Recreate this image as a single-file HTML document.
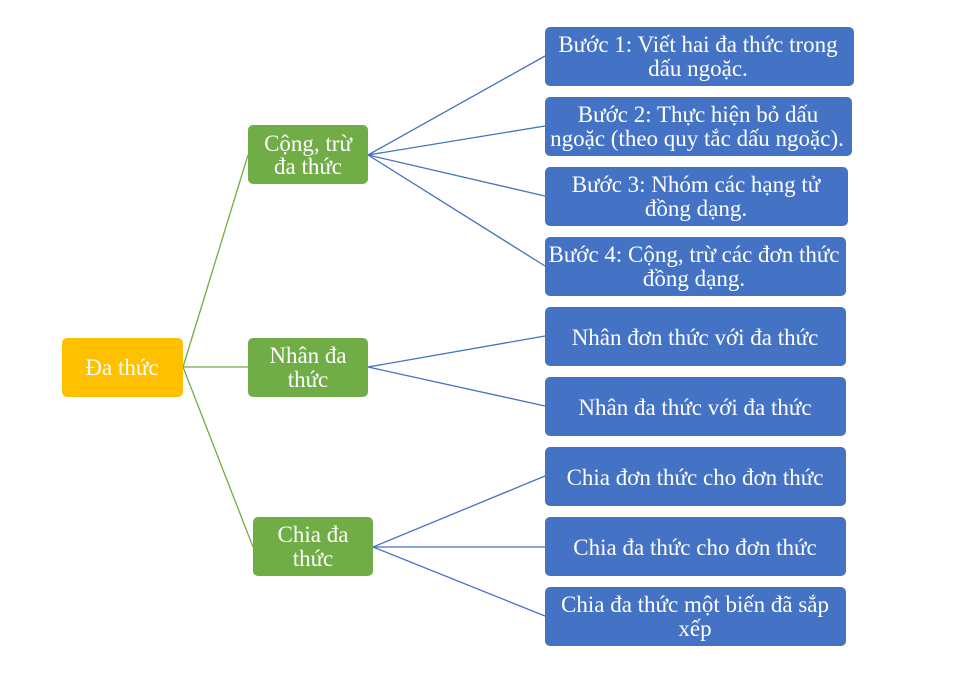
<!DOCTYPE html>
<html><head><meta charset="utf-8"><style>
html,body{margin:0;padding:0;background:#fff;width:957px;height:682px;overflow:hidden}
text{font-family:"Liberation Serif",serif;font-size:23px;fill:#fff;text-anchor:middle}
</style></head><body>
<svg width="957" height="682" viewBox="0 0 957 682" xmlns="http://www.w3.org/2000/svg">
<g stroke="#70AD47" stroke-width="1.3" fill="none">
<line x1="183" y1="367" x2="248" y2="155"/>
<line x1="183" y1="367" x2="248" y2="367"/>
<line x1="183" y1="367" x2="253" y2="547"/>
</g>
<g stroke="#4472C4" stroke-width="1.3" fill="none">
<line x1="368" y1="155" x2="545" y2="56"/>
<line x1="368" y1="155" x2="545" y2="126"/>
<line x1="368" y1="155" x2="545" y2="196"/>
<line x1="368" y1="155" x2="545" y2="266"/>
<line x1="368" y1="367" x2="545" y2="336"/>
<line x1="368" y1="367" x2="545" y2="406"/>
<line x1="373" y1="547" x2="545" y2="476"/>
<line x1="373" y1="547" x2="545" y2="547"/>
<line x1="373" y1="547" x2="545" y2="616"/>
</g>
<rect x="62" y="338" width="121" height="59" rx="5" fill="#FFC000"/>
<g fill="#70AD47">
<rect x="248" y="125" width="120" height="59" rx="5"/>
<rect x="248" y="338" width="120" height="59" rx="5"/>
<rect x="253" y="517" width="120" height="59" rx="5"/>
</g>
<g fill="#4472C4">
<rect x="545" y="27" width="309" height="59" rx="5"/>
<rect x="545" y="97" width="307" height="59" rx="5"/>
<rect x="545" y="167" width="303" height="59" rx="5"/>
<rect x="545" y="237" width="301" height="59" rx="5"/>
<rect x="545" y="307" width="301" height="59" rx="5"/>
<rect x="545" y="377" width="301" height="59" rx="5"/>
<rect x="545" y="447" width="301" height="59" rx="5"/>
<rect x="545" y="517" width="301" height="59" rx="5"/>
<rect x="545" y="587" width="301" height="59" rx="5"/>
</g>
<text x="122" y="375">Đa thức</text>
<text x="308" y="151">Cộng, trừ</text>
<text x="308" y="174">đa thức</text>
<text x="308" y="363">Nhân đa</text>
<text x="308" y="387">thức</text>
<text x="313" y="542">Chia đa</text>
<text x="313" y="566">thức</text>
<text x="698" y="52">Bước 1: Viết hai đa thức trong</text>
<text x="698" y="76">dấu ngoặc.</text>
<text x="698" y="122">Bước 2: Thực hiện bỏ dấu</text>
<text x="697" y="146">ngoặc (theo quy tắc dấu ngoặc).</text>
<text x="696" y="192">Bước 3: Nhóm các hạng tử</text>
<text x="696" y="216">đồng dạng.</text>
<text x="694" y="262">Bước 4: Cộng, trừ các đơn thức</text>
<text x="694" y="286">đồng dạng.</text>
<text x="695" y="345">Nhân đơn thức với đa thức</text>
<text x="695" y="415">Nhân đa thức với đa thức</text>
<text x="695" y="485">Chia đơn thức cho đơn thức</text>
<text x="695" y="555">Chia đa thức cho đơn thức</text>
<text x="695" y="612">Chia đa thức một biến đã sắp</text>
<text x="695" y="636">xếp</text>
</svg>
</body></html>
